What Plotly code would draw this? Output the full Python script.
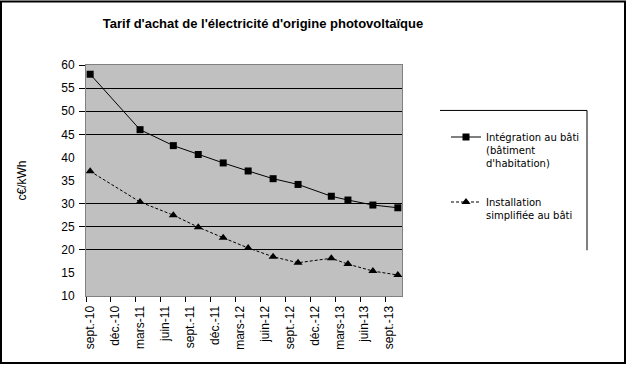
import plotly.graph_objects as go

# ---- data ----
dates = ["2010-09", "2011-03", "2011-07", "2011-10", "2012-01", "2012-04",
         "2012-07", "2012-10", "2013-02", "2013-04", "2013-07", "2013-10"]
integration_bati = [58.0, 46.0, 42.55, 40.63, 38.80, 37.06, 35.39, 34.15, 31.59, 30.77, 29.69, 29.10]
installation_simplifiee = [37.0, 30.35, 27.5, 24.9, 22.6, 20.4, 18.5, 17.2, 18.17, 16.9, 15.4, 14.54]
tick_labels = ["sept.-10", "déc.-10", "mars-11", "juin-11", "sept.-11", "déc.-11", "mars-12",
               "juin-12", "sept.-12", "déc.-12", "mars-13", "juin-13", "sept.-13"]
y_tick_values = [10, 15, 20, 25, 30, 35, 40, 45, 50, 55, 60]
grid_values = [20, 25, 30, 45, 50, 55]
y_tick_marks = [20, 25, 30, 45, 50, 55, 60]

name1 = "Intégration au bâti<br>(bâtiment<br>d'habitation)"
name2 = "Installation<br>simplifiée au bâti"
title = "Tarif d'achat de l'électricité d'origine photovoltaïque"
y_title = "c€/kWh"

# month index from Sept 2010 (Excel date axis with month base unit)
def month_index(d):
    y, m = map(int, d.split("-"))
    return (y - 2010) * 12 + (m - 9)

x = [month_index(d) for d in dates]
label_pos = [3 * k for k in range(len(tick_labels))]
tick_marks = [3 * k - 0.5 for k in range(len(tick_labels))]
x_range = [-0.5, 37.5]

W, H = 627, 365
L, R, T, B = 86, 225, 64.5, 69.2
pw, ph = W - L - R, H - T - B

def px_x(p):
    return (p - L) / pw

def px_y(p):
    return (H - B - p) / ph

FONT = "Liberation Sans, Arial, sans-serif"

fig = go.Figure()
fig.add_trace(go.Scatter(
    x=x, y=integration_bati, name=name1, mode="lines+markers",
    line=dict(color="black", width=1),
    marker=dict(symbol="square", size=7, color="black"),
    legendgroup="a"))
fig.add_trace(go.Scatter(
    x=x, y=installation_simplifiee, name=name2, mode="lines+markers",
    line=dict(color="black", width=1, dash="3px,2px"),
    marker=dict(symbol="triangle-up", size=8, color="black"),
    legendgroup="b"))
# empty trace to carry the overlay axes (ticks / grid)
fig.add_trace(go.Scatter(x=[], y=[], xaxis="x2", yaxis="y2", showlegend=False,
                         hoverinfo="skip"))

fig.update_layout(
    width=W, height=H,
    margin=dict(l=L, r=R, t=T, b=B),
    paper_bgcolor="white", plot_bgcolor="#C0C0C0",
    font=dict(family=FONT, size=12, color="black"),
    title=dict(text="<b>" + title + "</b>", x=263 / W, xref="container", xanchor="center",
               y=1 - 23 / H, yref="container", yanchor="middle",
               font=dict(size=13, family=FONT, color="black")),
    xaxis=dict(range=x_range, tickmode="array", tickvals=label_pos, ticktext=tick_labels,
               tickangle=-90, ticks="", showgrid=False, zeroline=False,
               showline=True, linecolor="#808080", linewidth=1, mirror=True,
               tickfont=dict(size=12), ticklabelstandoff=4),
    yaxis=dict(range=[10, 60], tickmode="array", tickvals=y_tick_values, ticks="",
               showgrid=False, zeroline=False,
               showline=True, linecolor="#808080", linewidth=1, mirror=True,
               tickfont=dict(size=12), ticklabelstandoff=8,
               title=dict(text=y_title, standoff=32, font=dict(size=12))),
    xaxis2=dict(range=x_range, overlaying="x", anchor="y2", tickmode="array",
                tickvals=tick_marks, ticks="outside", ticklen=5, tickcolor="black",
                showticklabels=False, showgrid=False, zeroline=False, showline=False),
    yaxis2=dict(range=[10, 60], overlaying="y", anchor="x2", tickmode="array",
                tickvals=y_tick_marks, ticks="outside", ticklen=6, tickcolor="black",
                showticklabels=False, showgrid=True, gridcolor="black", gridwidth=1,
                zeroline=False, showline=False),
    legend=dict(xref="container", yref="container", x=446 / W, y=1 - 124 / H,
                xanchor="left", yanchor="top", valign="top",
                font=dict(size=10, family="DejaVu Sans, sans-serif"),
                tracegroupgap=23, bgcolor="rgba(0,0,0,0)"),
    showlegend=True,
    shapes=[
        # outer chart frame
        dict(type="rect", xref="paper", yref="paper",
             x0=px_x(1), x1=px_x(625), y0=px_y(363), y1=px_y(1),
             line=dict(color="black", width=2), layer="above"),
        # legend frame (top and right edges visible)
        dict(type="line", xref="paper", yref="paper",
             x0=px_x(440), x1=px_x(587), y0=px_y(110), y1=px_y(110),
             line=dict(color="black", width=1)),
        dict(type="line", xref="paper", yref="paper",
             x0=px_x(587), x1=px_x(587), y0=px_y(110), y1=px_y(250),
             line=dict(color="black", width=1)),
    ],
)

fig.write_html("out.html")
